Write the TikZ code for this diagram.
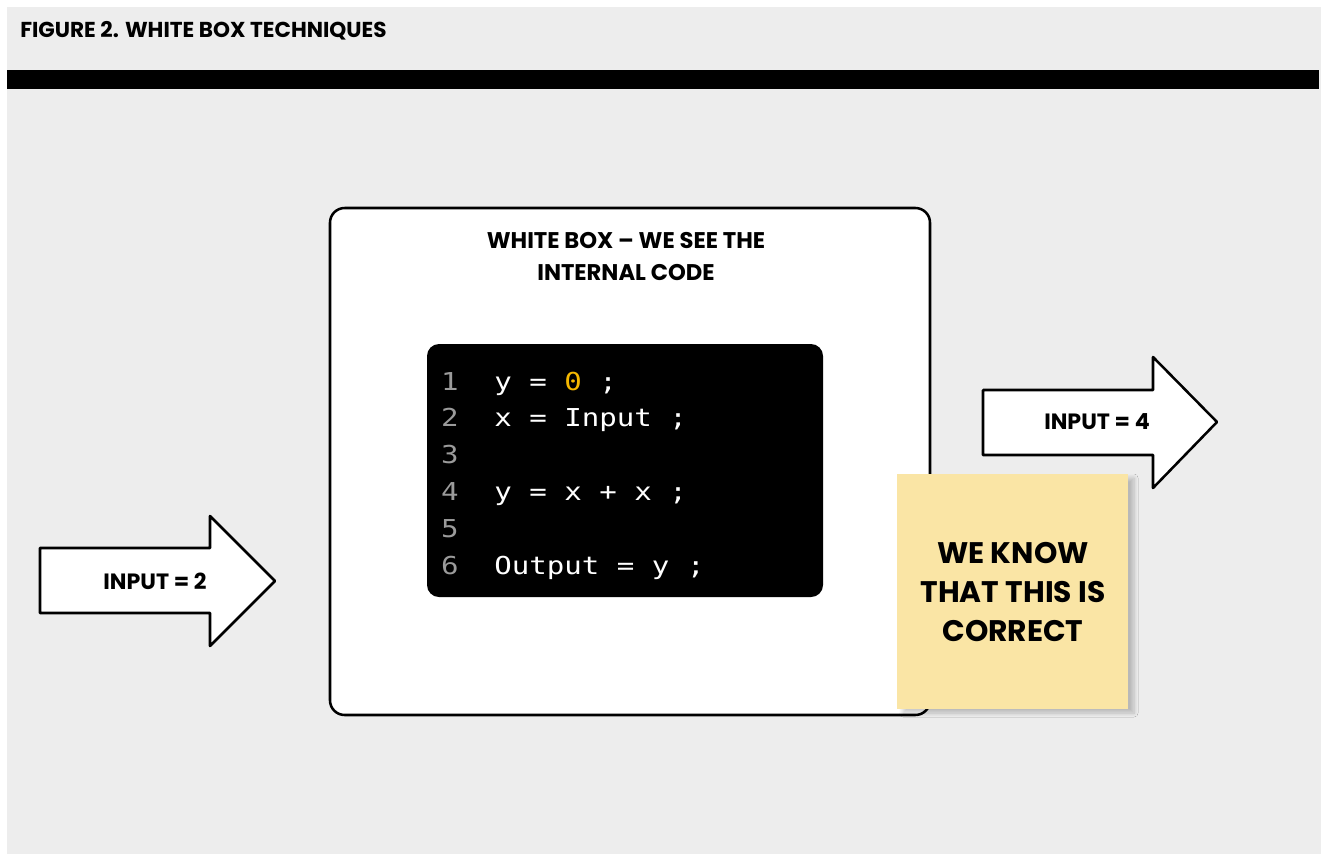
\documentclass[tikz,border=0pt]{standalone}
\usepackage{fontspec}
\newfontfamily\headfont{Poppins}
\newfontfamily\codefont{DejaVu Sans Mono}[FakeStretch=1.18]
\usetikzlibrary{shadows.blur}
\definecolor{bggray}{HTML}{EDEDED}
\definecolor{notey}{HTML}{FAE5A5}
\definecolor{zeroy}{HTML}{F5B800}
\definecolor{linegray}{HTML}{9B9B9B}

\begin{document}
\begin{tikzpicture}[x=0.75pt, y=-0.75pt,
		frame/.style={draw, line width=1.9pt, rounded corners=11pt, fill=white},
		codebox/.style={fill=black, rounded corners=9pt},
		bigarrow/.style={draw, line width=1.9pt, line join=round, fill=white},
		note/.style={fill=notey, blur shadow={shadow xshift=4.5pt, shadow yshift=-3pt,
					 shadow blur radius=3pt, shadow blur steps=8, shadow opacity=22}},
		headtxt/.style={font=\headfont\bfseries\fontsize{16.6}{24}\selectfont,
						align=center, inner sep=0pt},
		lineno/.style={font=\codefont\fontsize{18.5}{24}\selectfont, text=linegray,
					   anchor=base, inner sep=0pt},
		codeline/.style={font=\codefont\fontsize{18.5}{24}\selectfont, text=white,
						 anchor=base west, inner sep=0pt}]
	\useasboundingbox (0, 0) rectangle (1324, 854);
	% background and header
	\fill[bggray] (7, 7) rectangle (1321, 854);
	\fill[black] (7, 70) rectangle (1319, 89);
	\node[headtxt, anchor=base west, font=\headfont\bfseries\fontsize{16.2}{20}\selectfont]
		(title) at (20, 37) {FIGURE 2. WHITE BOX TECHNIQUES};
	% the white box
	\draw[frame] (330, 208) rectangle (930, 715);
	\node[headtxt, font=\headfont\bfseries\fontsize{17}{24}\selectfont]
		(boxtitle) at (626, 257) {WHITE BOX – WE SEE THE\\INTERNAL CODE};
	\fill[codebox] (427, 344) rectangle (823, 597);
	\foreach \n in {1,...,6}
		\node[lineno] (no\n) at (450, {390 + (\n-1)*36.8}) {\n};
	\node[codeline] (c1) at (494, 390) {y = \textcolor{zeroy}{0} ;};
	\node[codeline] (c2) at (494, 426.8) {x = Input ;};
	\node[codeline] (c4) at (494, 500.4) {y = x + x ;};
	\node[codeline] (c6) at (494, 574) {Output = y ;};
	% arrows
	\draw[bigarrow] (40, 548) -- (210, 548) -- (210, 516) -- (275, 581)
		-- (210, 646) -- (210, 613) -- (40, 613) -- cycle;
	\node[headtxt] (in2) at (155, 581) {INPUT = 2};
	\draw[bigarrow] (983, 390) -- (1153, 390) -- (1153, 357) -- (1217, 422)
		-- (1153, 488) -- (1153, 455) -- (983, 455) -- cycle;
	\node[headtxt] (in4) at (1097, 422) {INPUT = 4};
	% sticky note
	\fill[note] (897, 474) rectangle (1128, 709);
	\node[headtxt, font=\headfont\bfseries\fontsize{22.3}{29}\selectfont]
		(known) at (1013, 592) {WE KNOW\\THAT THIS IS\\CORRECT};
\end{tikzpicture}
\end{document}
